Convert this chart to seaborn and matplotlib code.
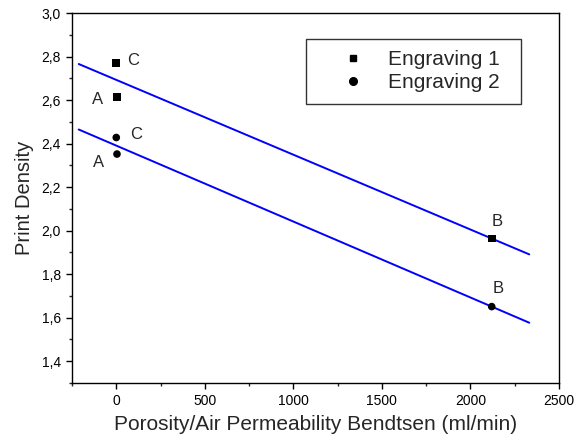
import numpy as np
import pandas as pd
import matplotlib
matplotlib.use("Agg")
import matplotlib.pyplot as plt
from matplotlib.ticker import MultipleLocator, FuncFormatter
from matplotlib.lines import Line2D
import seaborn as sns

# Data
porosity_e1 = [0, 4, 2120]
density_e1 = [2.77, 2.614, 1.964]
labels_e1 = ["C", "A", "B"]
porosity_e2 = [0, 4, 2120]
density_e2 = [2.428, 2.352, 1.651]
labels_e2 = ["C", "A", "B"]
series = ["Engraving 1", "Engraving 2"]
fit_x_range = [-212, 2332]

sns.set_style("ticks")
plt.rcParams["font.family"] = ["Liberation Sans", "DejaVu Sans"]

df = pd.DataFrame({
    "x": porosity_e1 + porosity_e2,
    "y": density_e1 + density_e2,
    "lab": labels_e1 + labels_e2,
    "s": [series[0]] * 3 + [series[1]] * 3,
})

fig = plt.figure(figsize=(5.76, 4.44), dpi=100)
ax = fig.add_axes([0.125, 0.1374, 0.8455, 0.8333])

# Linear fit lines
fits = []
for xs, ys in [(porosity_e1, density_e1), (porosity_e2, density_e2)]:
    p = np.polyfit(xs, ys, 1)
    fx = np.array(fit_x_range, dtype=float)
    fits.append(pd.DataFrame({"x": fx, "y": np.polyval(p, fx)}))
for f in fits:
    sns.lineplot(data=f, x="x", y="y", ax=ax, color="#0000ff", lw=1.4)

sns.scatterplot(data=df, x="x", y="y", style="s",
                markers={series[0]: "s", series[1]: "o"},
                color="black", s=30, linewidth=0, ax=ax, legend=False, zorder=5)

# Point labels
offsets = {
    (0, "C"): (12, 2), (0, "A"): (-14, -2), (0, "B"): (4, 12),
    (1, "C"): (14, 2), (1, "A"): (-13, -6), (1, "B"): (5, 13),
}
for si, (xs, ys, ls) in enumerate([(porosity_e1, density_e1, labels_e1),
                                    (porosity_e2, density_e2, labels_e2)]):
    for x, y, l in zip(xs, ys, ls):
        dx, dy = offsets[(si, l)]
        ax.annotate(l, (x, y), xytext=(dx, dy), textcoords="offset points",
                    ha="center", va="center", fontsize=12)

ax.set_xlim(-250, 2500)
ax.set_ylim(1.3, 3.0)
ax.xaxis.set_major_locator(MultipleLocator(500))
ax.xaxis.set_minor_locator(MultipleLocator(250))
ax.set_yticks(np.arange(1.4, 3.01, 0.2))
ax.yaxis.set_minor_locator(MultipleLocator(0.1))
ax.yaxis.set_major_formatter(FuncFormatter(lambda v, p: f"{v:.1f}".replace(".", ",")))
ax.tick_params(axis="both", which="major", direction="out", length=4.5, width=1,
               labelsize=10, colors="black")
ax.tick_params(axis="both", which="minor", direction="out", length=2.5, width=1)
ax.tick_params(top=False, right=False)
for sp in ax.spines.values():
    sp.set_visible(True)
    sp.set_color("black")
    sp.set_linewidth(1)

ax.set_xlabel("Porosity/Air Permeability Bendtsen (ml/min)", fontsize=15, labelpad=5)
ax.set_ylabel("Print Density", fontsize=14.5, labelpad=5)

handles = [Line2D([], [], ls="none", marker="s", color="black", markersize=5),
           Line2D([], [], ls="none", marker="o", color="black", markersize=5.5)]
leg = ax.legend(handles, series, loc="upper left",
                bbox_to_anchor=(0.48, 0.751, 0.441, 0.178), mode="expand",
                borderaxespad=0, fontsize=15, frameon=True, fancybox=False,
                edgecolor="black", borderpad=0.53, handlelength=3.45,
                handletextpad=-0.04, labelspacing=0.2)
leg.get_frame().set_linewidth(1)

fig.savefig("out.png", dpi=100)
